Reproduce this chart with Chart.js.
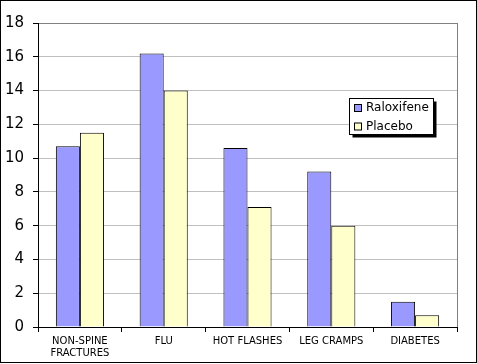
<!DOCTYPE html>
<html>
<head>
<meta charset="utf-8">
<script src="https://cdn.jsdelivr.net/npm/chart.js@4"></script>
<style>
html,body{margin:0;padding:0;background:#fff;}
#wrap{width:477px;height:364px;position:relative;}
</style>
</head>
<body>
<div id="wrap"><canvas id="c" width="477" height="364"></canvas></div>
<script>
const categories = [['NON-SPINE','FRACTURES'], 'FLU', 'HOT FLASHES', 'LEG CRAMPS', 'DIABETES'];
const raloxifene = [10.7, 16.2, 10.6, 9.2, 1.5];
const placebo = [11.5, 14.0, 7.1, 6.0, 0.7];
const seriesNames = ['Raloxifene', 'Placebo'];
const yTicks = [0, 2, 4, 6, 8, 10, 12, 14, 16, 18];

const framePlugin = {
  id: 'frame',
  afterDraw(chart) {
    const ctx = chart.ctx;
    const a = chart.chartArea;
    ctx.save();
    // plot right border
    ctx.strokeStyle = '#808080';
    ctx.lineWidth = 1;
    ctx.beginPath();
    ctx.moveTo(Math.round(a.right) + 0.5, a.top);
    ctx.lineTo(Math.round(a.right) + 0.5, a.bottom);
    ctx.stroke();
    // legend
    const lx = 349.5, ly = 98.5, lw = 84, lh = 36;
    ctx.fillStyle = '#000';
    ctx.fillRect(lx + 3, ly + 3, lw, lh);
    ctx.fillStyle = '#fff';
    ctx.fillRect(lx, ly, lw, lh);
    ctx.strokeStyle = '#000';
    ctx.strokeRect(lx, ly, lw, lh);
    ctx.font = '12px "DejaVu Sans"';
    ctx.textBaseline = 'middle';
    ctx.textAlign = 'left';
    chart.data.datasets.forEach((ds, i) => {
      const yy = 104.5 + i * 18.5;
      ctx.fillStyle = ds.backgroundColor;
      ctx.fillRect(354.5, yy, 7, 7);
      ctx.strokeRect(354.5, yy, 7, 7);
      ctx.fillStyle = '#000';
      ctx.fillText(ds.label, 366, yy + 3.5);
    });
    // outer frame
    ctx.strokeStyle = '#000';
    ctx.strokeRect(0.5, 0.5, 476, 362);
    ctx.restore();
  }
};

new Chart(document.getElementById('c'), {
  type: 'bar',
  data: {
    labels: categories,
    datasets: [
      { label: seriesNames[0], data: raloxifene, backgroundColor: '#9999ff', borderColor: '#000', borderWidth: 1 },
      { label: seriesNames[1], data: placebo, backgroundColor: '#ffffcc', borderColor: '#000', borderWidth: 1 }
    ]
  },
  options: {
    responsive: false,
    animation: false,
    devicePixelRatio: 1,
    layout: { padding: { top: 23, right: 20, left: 0, bottom: 0 } },
    plugins: { legend: { display: false }, tooltip: { enabled: false } },
    datasets: { bar: { barPercentage: 1, categoryPercentage: 0.574 } },
    scales: {
      x: {
        afterFit(s) { s.height = 37; },
        border: { color: '#000', width: 1 },
        grid: { drawOnChartArea: false, tickLength: 5, tickColor: '#000', offset: true },
        ticks: { color: '#000', font: { family: 'DejaVu Sans', size: 10 }, padding: 3, maxRotation: 0, autoSkip: false }
      },
      y: {
        min: 0, max: 18,
        afterFit(s) { s.width = 38; },
        afterBuildTicks(s) { s.ticks = yTicks.map(v => ({ value: v })); },
        border: { color: '#000', width: 1 },
        grid: {
          color: ctx => (ctx.tick && ctx.tick.value === 18) ? '#808080' : '#c0c0c0',
          tickLength: 5, tickColor: '#000'
        },
        ticks: { color: '#000', font: { family: 'DejaVu Sans', size: 15 }, padding: 9 }
      }
    }
  },
  plugins: [framePlugin]
});
</script>
</body>
</html>
